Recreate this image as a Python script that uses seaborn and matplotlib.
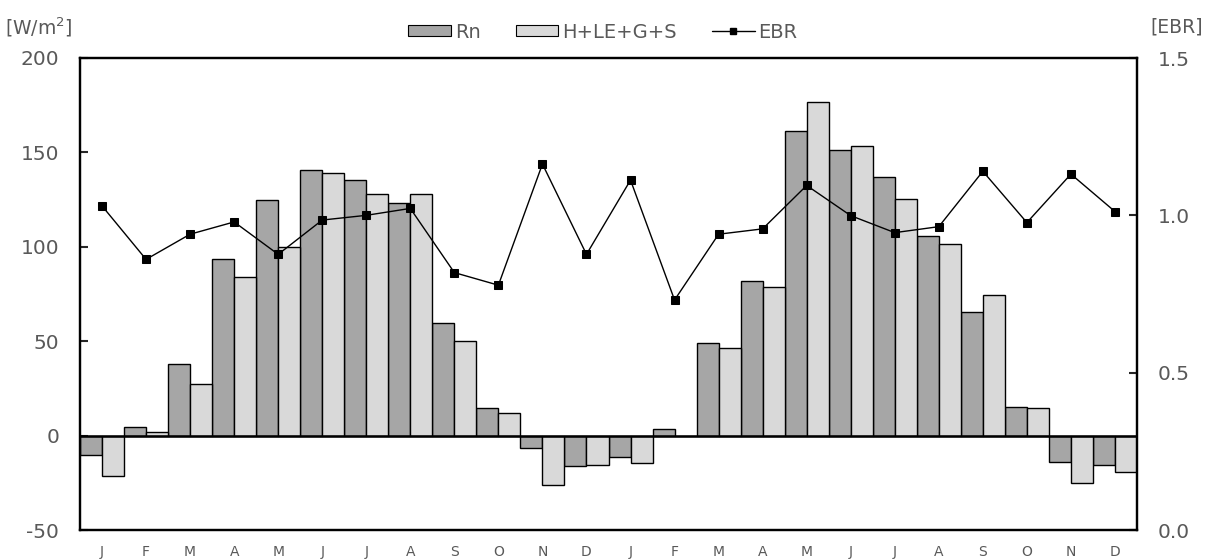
import numpy as np
import pandas as pd
import matplotlib
matplotlib.use("Agg")
import matplotlib.pyplot as plt
import seaborn as sns
from matplotlib.patches import Patch
from matplotlib.lines import Line2D

months = ["J", "F", "M", "A", "M", "J", "J", "A", "S", "O", "N", "D"] * 2
rn = [-10.2, 4.7, 38.0, 93.7, 124.8, 140.8, 135.5, 123.0, 59.5, 14.4, -6.4, -16.3,
      -11.2, 3.3, 49.0, 81.7, 161.5, 151.1, 136.8, 105.9, 65.3, 15.0, -14.0, -15.8]
hles = [-21.3, 1.8, 27.2, 84.0, 99.7, 139.1, 127.8, 127.8, 49.9, 12.0, -26.2, -15.4,
        -14.3, 0.0, 46.6, 78.9, 176.7, 153.2, 125.2, 101.5, 74.5, 14.4, -24.9, -19.3]
ebr = [1.030, 0.860, 0.940, 0.979, 0.876, 0.985, 1.000, 1.022, 0.818, 0.778, 1.163, 0.876,
       1.112, 0.731, 0.940, 0.957, 1.095, 0.999, 0.945, 0.964, 1.140, 0.977, 1.131, 1.012]
series_names = ["Rn", "H+LE+G+S"]
left_ticks = [-50, 0, 50, 100, 150, 200]
right_ticks = [0.0, 0.5, 1.0, 1.5]

sns.set_style("white")
plt.rcParams["font.family"] = ["DejaVu Sans"]
plt.rcParams["axes.unicode_minus"] = False
plt.rcParams["mathtext.default"] = "regular"

n = len(months)
idx = list(range(n))
df = pd.DataFrame({
    "idx": idx * 2,
    "value": rn + hles,
    "series": [series_names[0]] * n + [series_names[1]] * n,
})

col_rn = "#A6A6A6"
col_h = "#D9D9D9"
tcol = "#595959"

fig = plt.figure(figsize=(12.13, 5.6), dpi=100)
ax = fig.add_axes([80 / 1213, 1 - 530 / 560, (1137 - 80) / 1213, (530 - 58) / 560])

sns.barplot(data=df, x="idx", y="value", hue="series", order=idx,
            hue_order=series_names, palette=[col_rn, col_h], width=1.0,
            edgecolor="black", linewidth=1.0, legend=False, ax=ax, zorder=2)
ax.axhline(0, color="black", lw=1.8, zorder=3)
ax.set_xlim(-0.5, n - 0.5)
ax.set_ylim(-50, 200)
ax.set_yticks(left_ticks)
ax.set_xticks(idx)
ax.set_xticklabels(months)
ax.set_xlabel("")
ax.set_ylabel("")
ax.tick_params(axis="x", length=0, pad=11, labelsize=10, labelcolor=tcol)
ax.tick_params(axis="y", direction="in", length=6, width=1.5, pad=15,
               labelsize=14.5, labelcolor=tcol)
for s in ax.spines.values():
    s.set_linewidth(1.6)
    s.set_color("black")

ax2 = ax.twinx()
sns.lineplot(x=idx, y=ebr, ax=ax2, color="black", lw=1.0, marker="s",
             markersize=6, markeredgecolor="black", markerfacecolor="black")
ax2.set_ylim(0, 1.5)
ax2.set_yticks(right_ticks)
ax2.set_yticklabels([f"{v:.1f}" for v in right_ticks])
ax2.tick_params(axis="y", direction="in", length=6, width=1.5, pad=15,
                labelsize=14.5, labelcolor=tcol)
for s in ax2.spines.values():
    s.set_linewidth(1.6)
    s.set_color("black")
ax2.set_xlim(-0.5, n - 0.5)

fig.text(5 / 1213, 1 - 27 / 560, "[W/m$^2$]", fontsize=13.5, color=tcol, va="center", ha="left")
fig.text(1203 / 1213, 1 - 27 / 560, "[EBR]", fontsize=13.5, color=tcol, va="center", ha="right")

handles = [
    Patch(facecolor=col_rn, edgecolor="black", linewidth=0.8),
    Patch(facecolor=col_h, edgecolor="black", linewidth=0.8),
    Line2D([0], [0], color="black", lw=1.0, marker="s", markersize=5),
]
leg = fig.legend(handles, ["Rn", "H+LE+G+S", "EBR"], loc="center",
                 bbox_to_anchor=(603 / 1213, 1 - 32 / 560), ncol=3, frameon=False,
                 fontsize=14, handlelength=2.2, handleheight=0.5,
                 handletextpad=0.2, columnspacing=1.8)
for t in leg.get_texts():
    t.set_color(tcol)

fig.savefig("out.png", dpi=100)
